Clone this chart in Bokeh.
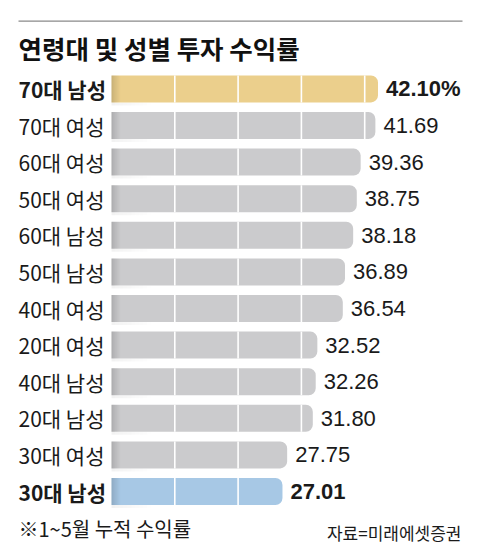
from bokeh.plotting import figure
from bokeh.models import Range1d, Label, ColumnDataSource
from bokeh.core.properties import value
from bokeh.embed import file_html
from bokeh.resources import INLINE

# ---- data ----
categories = ["70대 남성", "70대 여성", "60대 여성", "50대 여성", "60대 남성", "50대 남성",
              "40대 여성", "20대 여성", "40대 남성", "20대 남성", "30대 여성", "30대 남성"]
returns = [42.10, 41.69, 39.36, 38.75, 38.18, 36.89, 36.54, 32.52, 32.26, 31.80, 27.75, 27.01]
value_labels = ["42.10%", "41.69", "39.36", "38.75", "38.18", "36.89", "36.54",
                "32.52", "32.26", "31.80", "27.75", "27.01"]
grid_ticks = [10, 20, 30, 40]
title_text = "연령대 및 성별 투자 수익률"
note_text = "※1~5월 누적 수익률"
source_text = "자료=미래에셋증권"

# ---- layout constants (pixels in canvas) ----
W, H = 464, 550
X0 = 111.0      # canvas x of value 0
PXU = 6.33      # pixels per unit
ROW0 = 88.4     # canvas y of first row centre
PITCH = 36.6    # row pitch in px
BAR_H = 27.0

def px2x(px):
    return (px - X0) / PXU

def py2y(py):
    return (py - ROW0) / PITCH

n = len(categories)
rows = list(range(n))
colors = []
styles = []
for i in rows:
    if i == 0:
        colors.append("#EBCF8C")
        styles.append("bold")
    elif i == n - 1:
        colors.append("#A7C8E5")
        styles.append("bold")
    else:
        colors.append("#CBCBCD")
        styles.append("normal")

src = ColumnDataSource(dict(
    y=rows, right=returns, color=colors, cat=categories,
    lab=value_labels, style=styles,
    lab_x=[v + px2x(X0 + 8) for v in returns],
    cat_x=[px2x(18)] * n,
))

p = figure(width=W, height=H, output_backend="svg", toolbar_location=None,
           x_range=Range1d(px2x(0), px2x(W)),
           y_range=Range1d(py2y(H), py2y(0)),
           min_border=0, outline_line_color=None)
p.axis.visible = False
p.grid.visible = False
p.background_fill_color = "white"
p.border_fill_color = "white"

bh = BAR_H / PITCH

# faint shadow under the bars at left
for k in range(10):
    p.hbar(y=[r + bh / 2 + 1.5 / PITCH for r in rows], left=px2x(X0 + k * 4), right=px2x(X0 + (k + 1) * 4),
           height=3.0 / PITCH, fill_color="#000000", fill_alpha=0.05 * (1 - k / 10), line_color=None)

# bars
p.hbar(y="y", left=0, right="right", height=bh, fill_color="color", line_color=None,
       border_radius=(0, 7, 7, 0), source=src)

# left shading gradient
for k in range(10):
    p.hbar(y=rows, left=px2x(X0 + k * 1.0), right=px2x(X0 + (k + 1) * 1.0), height=bh,
           fill_color="#000000", fill_alpha=0.15 * (1 - k / 10) ** 1.5, line_color=None)

# white gridlines inside bars
gx0, gx1, gy0, gy1 = [], [], [], []
for r, v in zip(rows, returns):
    for g in grid_ticks:
        if g < v - 0.5:
            gx0.append(g); gx1.append(g)
            gy0.append(r - bh / 2); gy1.append(r + bh / 2)
p.segment(x0=gx0, y0=gy0, x1=gx1, y1=gy1, line_color="white", line_width=1.6)

# value labels
p.text(x="lab_x", y="y", text="lab", source=src, text_baseline="middle", text_align="left",
       text_font=value("Liberation Sans"), text_font_size="22px", text_font_style="style",
       text_color="#1a1a1a")

# category labels
p.text(x="cat_x", y="y", text="cat", source=src, text_baseline="middle", text_align="left",
       text_font=value("Noto Sans CJK KR"), text_font_size="21px", text_font_style="style",
       text_color="#1a1a1a")

# top rule
p.segment(x0=[px2x(18)], x1=[px2x(462)], y0=[py2y(20.7)], y1=[py2y(20.7)],
          line_color="#8a8a8a", line_width=1.2)

# title
p.add_layout(Label(x=18, y=H - 46.5, x_units="screen", y_units="screen", text=title_text,
                   text_font="Noto Sans CJK KR", text_font_size="25.5px", text_font_style="bold",
                   text_baseline="middle", text_align="left", text_color="#111111"))
# footnote
p.add_layout(Label(x=18, y=H - 528, x_units="screen", y_units="screen", text=note_text,
                   text_font="Noto Sans CJK KR", text_font_size="20px",
                   text_baseline="middle", text_align="left", text_color="#1a1a1a"))
# source
p.add_layout(Label(x=461, y=H - 532, x_units="screen", y_units="screen", text=source_text,
                   text_font="Noto Sans CJK KR", text_font_size="17px",
                   text_baseline="middle", text_align="right", text_color="#1a1a1a"))

open("out.html", "w").write(file_html(p, INLINE))
